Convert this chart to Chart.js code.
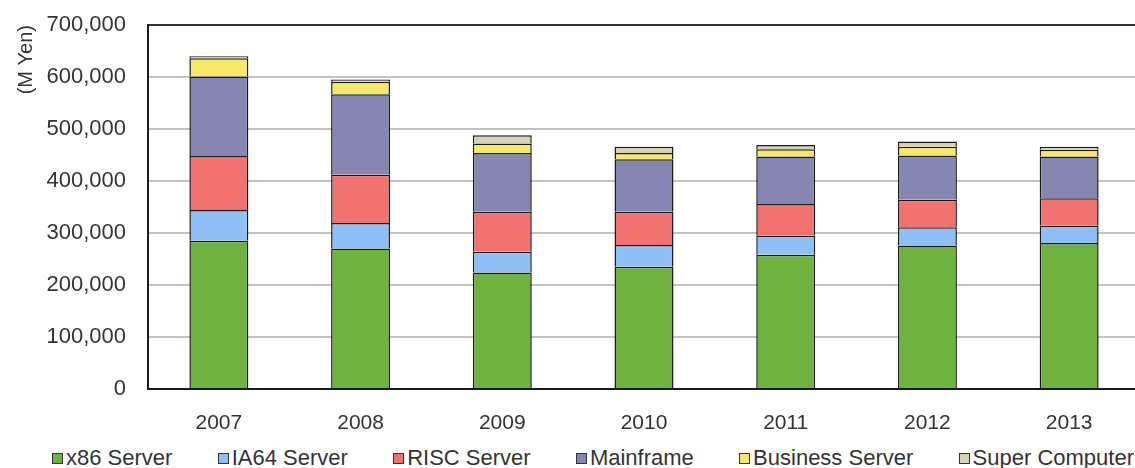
<!DOCTYPE html>
<html>
<head>
<meta charset="utf-8">
<script src="https://cdn.jsdelivr.net/npm/chart.js@4.4.1/dist/chart.umd.min.js"></script>
<style>
    html, body { margin: 0; padding: 0; background: white; overflow: hidden; }
    #wrap { position: relative; width: 1145px; height: 468px; }
    #chartBox { position: absolute; left: 0; top: 0; width: 1145px; height: 440px; }
    #legend {
        position: absolute; left: 52px; top: 445px; width: 1082px; height: 26px;
        display: flex; justify-content: space-between; align-items: center;
        font-family: "Liberation Sans", Arial, sans-serif; font-size: 22px; color: #333;
    }
    .item { display: flex; align-items: center; white-space: nowrap; }
    .box { width: 9px; height: 9px; border: 1px solid #333; margin-right: 3px; }
</style>
</head>
<body>
<div id="wrap">
    <div id="chartBox"><canvas id="serverChart"></canvas></div>
    <div id="legend"></div>
</div>
<script>
const years = ["2007", "2008", "2009", "2010", "2011", "2012", "2013"]
const seriesNames = ["x86 Server", "IA64 Server", "RISC Server", "Mainframe", "Business Server", "Super Computer"]
const seriesColors = ["#70b23f", "#8ebff6", "#f27272", "#8686b2", "#f6e96a", "#d8d2b4"]

// M Yen
const x86Values = [285000, 270000, 224000, 235000, 258000, 276000, 281000]
const ia64Values = [59000, 49000, 40000, 42000, 37000, 35000, 33000]
const riscValues = [104000, 93000, 77000, 64000, 61000, 53000, 53000]
const mainframeValues = [153000, 155000, 113000, 101000, 91000, 85000, 80000]
const businessValues = [35000, 24000, 18000, 12000, 14000, 17000, 13000]
const superValues = [4000, 4000, 16000, 12000, 8000, 10000, 6000]

const yTicks = [0, 100000, 200000, 300000, 400000, 500000, 600000, 700000]

const allValues = [x86Values, ia64Values, riscValues, mainframeValues, businessValues, superValues]
const fontFamily = "'Liberation Sans', Arial, sans-serif"

function buildLegend(){
    legend = document.getElementById("legend")
    for (var i in seriesNames){
        legend.innerHTML += '<div class="item"><div class="box" style="background:' + seriesColors[i] + '"></div>' + seriesNames[i] + '</div>'
    }
}

function showChart(){
    datasets = []
    for (var i in seriesNames){
        datasets.push({
            label: seriesNames[i],
            data: allValues[i],
            backgroundColor: seriesColors[i],
            borderColor: "#1a1a1a",
            borderWidth: 1.5,
            barPercentage: 0.416,
            categoryPercentage: 1.0
        })
    }

    const ctx = document.getElementById("serverChart").getContext('2d')
    new Chart(ctx, {
        type: "bar",
        data: {
            labels: years,
            datasets: datasets
        },
        options: {
            responsive: true,
            maintainAspectRatio: false,
            animation: false,
            layout: {
                padding: { left: 10, right: 5, top: 25, bottom: 5 }
            },
            scales: {
                x: {
                    stacked: true,
                    grid: { display: false },
                    border: { display: true, color: "#1a1a1a", width: 2 },
                    ticks: {
                        color: "#333",
                        padding: 14,
                        font: { family: fontFamily, size: 21 }
                    },
                    afterFit: (axis) => { axis.height = 46 }
                },
                y: {
                    stacked: true,
                    min: yTicks[0],
                    max: yTicks[yTicks.length - 1],
                    afterBuildTicks: (axis) => {
                        axis.ticks = yTicks.map(v => ({ value: v }))
                    },
                    grid: {
                        drawTicks: false,
                        color: (c) => c.tick && c.tick.value == yTicks[yTicks.length - 1] ? "#333" : "#c2c2c2",
                        lineWidth: 2
                    },
                    border: { display: true, color: "#1a1a1a", width: 2 },
                    ticks: {
                        color: "#333",
                        padding: 22,
                        font: { family: fontFamily, size: 22 },
                        callback: (v) => v.toLocaleString("en-US")
                    },
                    title: {
                        display: true,
                        text: "(M Yen)",
                        align: "end",
                        color: "#333",
                        padding: { top: 4, bottom: 12 },
                        font: { family: fontFamily, size: 20 }
                    },
                    afterFit: (axis) => {
                        axis.width = 138
                        axis.paddingTop = 10
                        axis.paddingBottom = 10
                    }
                }
            },
            plugins: {
                legend: { display: false },
                tooltip: { enabled: false }
            }
        }
    })
}

buildLegend()
showChart()
</script>
</body>
</html>
